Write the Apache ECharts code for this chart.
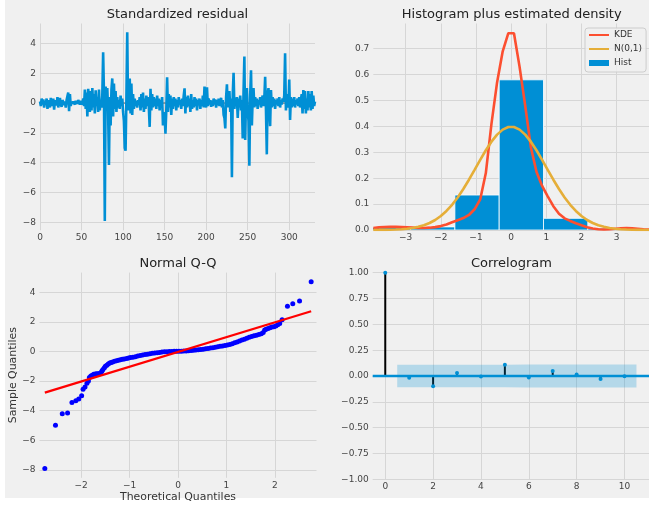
<!DOCTYPE html>
<html><head><meta charset="utf-8">
<script src="https://cdn.jsdelivr.net/npm/echarts@6/dist/echarts.min.js"></script>
<style>
html,body{margin:0;padding:0;background:#ffffff;}
#bg{position:absolute;left:5px;top:0;width:644px;height:498px;background:#f0f0f0;}
#chart{position:absolute;left:0;top:0;width:649px;height:506px;}
</style></head><body><div id="bg"></div><div id="chart"></div>
<script>
// ---- Standardized residual (index 0..331) ----
const resid = [
 0.1,-0.2,0.3,-0.1,0.25,-0.3,0.15,-0.05,0.3,-0.4,
 0.2,0.1,-0.3,0.35,-0.2,0.05,0.3,-0.45,0.2,0.1,
 -0.15,0.4,-0.3,0.1,0.35,-0.1,-0.25,0.2,0.05,-0.15,
 0.1,-0.3,0.2,0.45,0.7,-0.55,0.6,-0.2,0.1,-0.05,
 0.1,0.05,-0.1,0.15,0.1,-0.05,0.2,0.05,-0.1,0.15,
 0.05,-0.1,0.3,-0.2,0.9,-0.4,0.7,-0.9,0.95,0.3,
 -0.6,0.8,-0.5,1.0,-0.3,0.6,-0.7,0.85,-0.2,0.4,
 -0.6,0.9,-0.5,0.2,-0.3,0.5,3.4,0.6,-7.9,1.1,
 0.2,1.0,-0.6,-4.15,0.4,-1.5,0.9,1.65,-0.9,1.3,
 -0.4,0.8,-0.6,0.4,-0.3,0.2,-0.4,0.5,-0.2,0.3,
 -0.6,-1.2,-3.0,-3.2,0.3,4.75,-0.5,1.2,1.65,-0.7,
 1.3,-0.8,0.6,-0.4,0.3,-0.2,0.15,-0.3,0.2,-0.1,
 0.4,-0.5,0.6,-0.3,0.7,-0.6,0.3,-0.4,0.5,-0.2,
 0.4,-0.3,-1.6,0.95,-0.5,0.6,-0.3,0.4,-0.2,0.3,
 -0.4,0.5,-0.2,0.3,-0.5,0.2,-0.1,0.4,-1.5,-0.6,
 -0.9,-2.05,-0.5,1.72,-0.6,0.6,-0.3,0.5,-0.8,0.3,
 -0.4,0.4,-0.2,0.3,-0.5,0.2,-0.3,0.4,-0.1,0.2,
 -0.4,0.3,-0.2,0.5,0.98,-0.7,0.4,-0.3,0.5,-0.2,
 0.3,-0.6,0.6,-0.4,0.2,-0.3,0.4,-0.2,0.3,-0.5,
 0.2,-0.1,0.3,-0.4,0.2,-0.2,0.5,-0.3,1.1,0.2,
 -0.3,1.05,-0.2,0.3,-0.1,0.2,-0.25,0.15,-0.2,0.3,
 -0.1,0.25,-0.3,0.2,-0.15,0.3,-0.2,0.1,0.35,-0.3,
 0.2,-0.8,-1.0,-1.7,0.4,1.25,-0.3,0.5,0.8,-0.6,
 0.3,-4.98,0.6,2.03,-0.4,0.3,-0.2,0.4,-1.0,0.3,
 -0.3,0.5,-0.5,0.2,-2.37,0.8,3.12,-2.48,0.4,1.0,
 -0.6,-1.2,-4.2,0.5,2.2,-1.5,0.3,1.0,-0.3,0.4,
 -0.2,0.3,-0.4,0.2,-0.1,0.4,-0.3,0.2,0.5,-0.2,
 0.3,1.76,-0.5,-3.44,0.6,1.0,-0.4,-1.55,0.87,-0.3,
 0.4,-0.2,0.3,-0.4,0.2,-0.1,0.3,-0.2,0.4,-0.3,
 0.2,-0.1,0.3,0.1,0.5,3.33,-0.5,0.6,0.2,-0.3,
 1.58,-1.14,0.4,-0.3,0.3,-0.2,0.4,-0.3,0.2,-0.1,
 0.3,-0.2,0.4,-0.3,0.2,0.6,-0.7,0.87,-0.4,0.8,
 -0.7,0.3,-0.5,0.8,-0.3,0.6,-0.5,0.8,-0.4,0.5,
 -0.2,0.1
];
const residTicksX = [0,50,100,150,200,250,300];
const sampleTicks = [-8,-6,-4,-2,0,2,4];

// ---- Histogram plus estimated density ----
const histEdges = [-7.90,-6.64,-5.38,-4.12,-2.86,-1.60,-0.34,0.92,2.18,3.44,4.70];
const histDensity = [0.0024,0,0.0072,0.0096,0.012,0.135,0.58,0.045,0.0072,0.0024];
const densX = [-3.92,-3.76,-3.60,-3.44,-3.28,-3.12,-2.96,-2.80,-2.64,-2.48,-2.32,-2.16,-2.00,-1.84,-1.68,-1.52,-1.36,-1.20,-1.04,-0.88,-0.72,-0.56,-0.40,-0.24,-0.08,0.08,0.24,0.40,0.56,0.72,0.88,1.04,1.20,1.36,1.52,1.68,1.84,2.00,2.16,2.32,2.48,2.64,2.80,2.96,3.12,3.28,3.44,3.60,3.76,3.92];
const kdeY = [0.008,0.010,0.011,0.012,0.012,0.011,0.010,0.009,0.008,0.008,0.009,0.011,0.015,0.021,0.030,0.038,0.046,0.058,0.080,0.118,0.22,0.41,0.57,0.69,0.76,0.76,0.63,0.48,0.32,0.225,0.17,0.13,0.092,0.063,0.045,0.035,0.026,0.018,0.011,0.006,0.003,0.002,0.003,0.005,0.007,0.008,0.007,0.005,0.003,0.002];
const normY = [0.0002,0.0003,0.0006,0.0011,0.0018,0.0031,0.0050,0.0079,0.0122,0.0184,0.0271,0.0387,0.0540,0.0734,0.0973,0.1257,0.1582,0.1942,0.2323,0.2709,0.3079,0.3411,0.3683,0.3876,0.3977,0.3977,0.3876,0.3683,0.3411,0.3079,0.2709,0.2323,0.1942,0.1582,0.1257,0.0973,0.0734,0.0540,0.0387,0.0271,0.0184,0.0122,0.0079,0.0050,0.0031,0.0018,0.0011,0.0006,0.0003,0.0002];
const histTicksX = [-3,-2,-1,0,1,2,3];
const histTicksY = [0,0.1,0.2,0.3,0.4,0.5,0.6,0.7];

// ---- Normal Q-Q ----
const qqTheoretical = [-2.75,-2.53,-2.39,-2.28,-2.19,-2.11,-2.05,-1.99,-1.96,-1.92,-1.88,-1.85,-1.83,-1.80,-1.77,-1.74,-1.71,-1.68,-1.65,-1.62,-1.59,-1.57,-1.55,-1.52,-1.50,-1.47,-1.44,-1.41,-1.38,-1.35,-1.31,-1.27,-1.23,-1.19,-1.15,-1.11,-1.06,-1.02,-0.98,-0.93,-0.88,-0.83,-0.78,-0.73,-0.68,-0.63,-0.58,-0.53,-0.48,-0.43,-0.38,-0.33,-0.28,-0.23,-0.18,-0.13,-0.08,-0.03,0.02,0.07,0.12,0.17,0.22,0.27,0.32,0.37,0.42,0.47,0.52,0.57,0.62,0.67,0.72,0.77,0.82,0.87,0.92,0.97,1.02,1.07,1.12,1.17,1.22,1.27,1.32,1.37,1.42,1.47,1.52,1.57,1.62,1.67,1.72,1.76,1.79,1.82,1.86,1.90,1.94,1.98,2.02,2.06,2.10,2.15,2.26,2.37,2.51,2.75];
const qqSample = [-7.9,-4.98,-4.2,-4.15,-3.45,-3.33,-3.2,-2.98,-2.55,-2.4,-2.15,-2.0,-1.75,-1.66,-1.6,-1.54,-1.52,-1.51,-1.5,-1.49,-1.42,-1.32,-1.22,-1.1,-1.0,-0.92,-0.85,-0.78,-0.74,-0.70,-0.66,-0.62,-0.59,-0.56,-0.53,-0.50,-0.47,-0.44,-0.41,-0.38,-0.35,-0.31,-0.27,-0.24,-0.21,-0.18,-0.15,-0.12,-0.10,-0.08,-0.06,-0.04,-0.02,-0.01,0.0,0.0,0.01,0.01,0.02,0.02,0.03,0.04,0.05,0.06,0.08,0.10,0.12,0.14,0.16,0.18,0.20,0.23,0.26,0.29,0.32,0.35,0.38,0.41,0.44,0.48,0.53,0.59,0.65,0.71,0.77,0.83,0.90,0.96,1.01,1.06,1.10,1.15,1.20,1.28,1.45,1.50,1.55,1.60,1.65,1.68,1.72,1.80,1.90,2.15,3.05,3.22,3.42,4.72];
const qqLineX = [-2.75,2.75];
const qqLineY = [-2.78,2.72];
const qqTicksX = [-2,-1,0,1,2];

// ---- Correlogram ----
const acfLags = [0,1,2,3,4,5,6,7,8,9,10];
const acfValues = [1.0,-0.016,-0.10,0.03,-0.004,0.11,-0.015,0.048,0.015,-0.03,-0.003];
const confX = [0.5,2,3,4,5,6,7,8,9,10.5];
const confBand = [0.108,0.108,0.109,0.109,0.109,0.111,0.111,0.111,0.111,0.111];
const acfTicksX = [0,2,4,6,8,10];
const acfTicksY = [-1,-0.75,-0.5,-0.25,0,0.25,0.5,0.75,1];

const FONT = 'DejaVu Sans';
const BLUE = '#008fd5', RED = '#fc4f30', YEL = '#e5ae38';
function fmt(d){ return function(v){ const s = Math.abs(v).toFixed(d); return (v < -1e-9 ? '\u2212' : '') + s; }; }
function axis(gridIndex, min, max, ticks, dec, isX, extra){
  return Object.assign({
    type:'value', gridIndex:gridIndex, min:min, max:max,
    axisLine:{show:false}, axisTick:{show:false, customValues:ticks},
    axisLabel:{customValues:ticks, formatter:fmt(dec), fontSize:9, color:'#444', margin:isX?3:4, fontFamily:FONT},
    splitLine:{show:true, lineStyle:{color:'#d6d6d6', width:1}}
  }, extra||{});
}
const nameStyle = {fontSize:10.9, color:'#333', fontFamily:FONT};
const titleStyle = {fontSize:13, fontWeight:'normal', color:'#222', fontFamily:FONT};
const noSym = {opacity:0, borderWidth:0};

const chart = echarts.init(document.getElementById('chart'), null, {renderer:'canvas'});
chart.setOption({
  animation:false,
  backgroundColor:'transparent',
  textStyle:{fontFamily:FONT},
  title:[
    {text:'Standardized residual', left:177.5, top:8, textAlign:'center', padding:0, textStyle:titleStyle},
    {text:'Histogram plus estimated density', left:511.7, top:8, textAlign:'center', padding:0, textStyle:titleStyle},
    {text:'Normal Q-Q', left:178, top:257.3, textAlign:'center', padding:0, textStyle:titleStyle},
    {text:'Correlogram', left:511.4, top:257.3, textAlign:'center', padding:0, textStyle:titleStyle}
  ],
  legend:{
    data:[{name:'KDE', itemStyle:noSym},{name:'N(0,1)', itemStyle:noSym},{name:'Hist', icon:'rect'}],
    orient:'vertical', left:585, top:28, itemWidth:20, itemHeight:6, itemGap:2,
    padding:[1,4,3,3], backgroundColor:'rgba(240,240,240,0.8)', borderColor:'#cccccc', borderWidth:1, borderRadius:3,
    textStyle:{fontSize:9, color:'#333', lineHeight:12, fontFamily:FONT}, selectedMode:false
  },
  grid:[
    {left:40, top:23.5, width:275, height:206.8},
    {left:373.3, top:23.5, width:276.7, height:206.5},
    {left:39.5, top:272.6, width:277, height:205.2},
    {left:372.7, top:272.7, width:277.3, height:206.6}
  ],
  xAxis:[
    axis(0, 0, resid.length-1, residTicksX, 0, true),
    axis(1, -3.92, 3.92, histTicksX, 0, true),
    axis(2, -2.86, 2.86, qqTicksX, 0, true, {name:'Theoretical Quantiles', nameLocation:'middle', nameGap:14, nameTextStyle:nameStyle}),
    axis(3, -0.525, 11.025, acfTicksX, 0, true)
  ],
  yAxis:[
    axis(0, -8.53, 5.33, sampleTicks, 0, false),
    axis(1, 0, 0.7975, histTicksY, 1, false),
    axis(2, -8.53, 5.33, sampleTicks, 0, false, {name:'Sample Quantiles', nameLocation:'middle', nameGap:20, nameRotate:90, nameTextStyle:nameStyle}),
    axis(3, -1, 1, acfTicksY, 2, false)
  ],
  series:[
    {type:'line', xAxisIndex:0, yAxisIndex:0, data:[[0,0],[resid.length-1,0]], symbol:'none', showSymbol:false,
     lineStyle:{color:'rgba(0,0,0,0.4)', width:1.6}, z:1, silent:true},
    {type:'line', xAxisIndex:0, yAxisIndex:0, data:resid.map((v,i)=>[i,v]), symbol:'none', showSymbol:false,
     lineStyle:{color:BLUE, width:2.6}, itemStyle:{color:BLUE}, z:2, silent:true},
    {type:'custom', name:'Hist', xAxisIndex:1, yAxisIndex:1, clip:true, itemStyle:{color:BLUE},
     data:histDensity.map((h,i)=>[histEdges[i], histEdges[i+1], h]), encode:{x:[0,1], y:2},
     renderItem:function(params, api){
       const p0 = api.coord([api.value(0), api.value(2)]);
       const p1 = api.coord([api.value(1), 0]);
       return {type:'rect', shape:{x:p0[0], y:p0[1], width:p1[0]-p0[0], height:p1[1]-p0[1]},
               style:{fill:BLUE, stroke:'#ffffff', lineWidth:0.8}};
     }, silent:true},
    {type:'line', name:'KDE', xAxisIndex:1, yAxisIndex:1, data:densX.map((x,i)=>[x,kdeY[i]]), symbol:'none', showSymbol:false,
     lineStyle:{color:RED, width:2.6}, itemStyle:{color:RED}, z:3, silent:true},
    {type:'line', name:'N(0,1)', xAxisIndex:1, yAxisIndex:1, data:densX.map((x,i)=>[x,normY[i]]), symbol:'none', showSymbol:false,
     lineStyle:{color:YEL, width:2.6}, itemStyle:{color:YEL}, z:4, silent:true},
    {type:'scatter', xAxisIndex:2, yAxisIndex:2, data:qqTheoretical.map((x,i)=>[x,qqSample[i]]), symbolSize:5,
     itemStyle:{color:'#0000ff', opacity:1}, z:2, silent:true},
    {type:'line', xAxisIndex:2, yAxisIndex:2, data:qqLineX.map((x,i)=>[x,qqLineY[i]]), symbol:'none', showSymbol:false,
     lineStyle:{color:'#ff0000', width:2.3}, z:3, silent:true},
    {type:'custom', xAxisIndex:3, yAxisIndex:3, data:acfLags.map((l,i)=>[l,acfValues[i]]), encode:{x:0, y:1},
     renderItem:function(params, api){
       const a = api.coord([api.value(0), 0]);
       const b = api.coord([api.value(0), api.value(1)]);
       return {type:'line', shape:{x1:a[0], y1:a[1], x2:b[0], y2:b[1]}, style:{stroke:'#000000', lineWidth:2}};
     }, z:2, silent:true},
    {type:'line', xAxisIndex:3, yAxisIndex:3, data:[[-0.525,0],[11.025,0]], symbol:'none', showSymbol:false,
     lineStyle:{color:BLUE, width:2.6}, z:3, silent:true},
    {type:'scatter', xAxisIndex:3, yAxisIndex:3, data:acfLags.map((l,i)=>[l,acfValues[i]]), symbolSize:4,
     itemStyle:{color:BLUE, opacity:1}, z:4, silent:true},
    {type:'custom', xAxisIndex:3, yAxisIndex:3, data:[[confX[0],0]], encode:{x:0, y:1},
     renderItem:function(params, api){
       const up = confX.map((x,i)=>api.coord([x, confBand[i]]));
       const lo = confX.map((x,i)=>api.coord([x, -confBand[i]])).reverse();
       return {type:'polygon', shape:{points:up.concat(lo)}, style:{fill:'rgba(0,143,213,0.25)'}};
     }, z:5, silent:true}
  ]
});
</script></body></html>
